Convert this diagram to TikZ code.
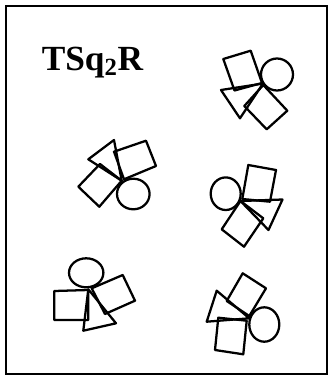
\documentclass[tikz,border=0pt]{standalone}
\usepackage{fontspec}
\setmainfont{Liberation Serif}
\usepackage{tikz}
\usetikzlibrary{positioning}

\begin{document}
\begin{tikzpicture}[
  x=0.75pt, y=-0.75pt,
  frame/.style={draw, line width=1.5pt},
  piece/.style={draw, line width=1.7pt, line join=round},
  title/.style={anchor=base west, font=\bfseries\fontsize{26.5}{30}\selectfont, inner sep=0pt}
]
\useasboundingbox (0,0) rectangle (328,376);
\draw[frame] (6.5,6) rectangle (326.5,374);
\node[title] (label) at (41.5,70.5) {TSq\textsubscript{2}R};

% group 1, top right
\draw[piece] (223.3,59) -- (250.7,50.7) -- (262,83) -- (234.5,90.5) -- cycle;
\draw[piece] (277,74.5) ellipse (16 and 16);
\draw[piece] (221,90) -- (263,83.5) -- (240,118.3) -- cycle;
\draw[piece] (244.3,106) -- (263.3,85) -- (287.3,110.7) -- (266.7,129.3) -- cycle;

% group 2, middle left
\draw[piece] (88.3,159.3) -- (114,140) -- (121.7,180.7) -- cycle;
\draw[piece] (114,151.7) -- (146,140.7) -- (156,166) -- (124,179.3) -- cycle;
\draw[piece] (78.3,186.7) -- (100,164) -- (121.7,180.7) -- (99.3,206.7) -- cycle;
\draw[piece] (133.3,194) ellipse (16.3 and 15.3);

% group 3, middle right
\draw[piece] (225.7,193.7) ellipse (15 and 16.3);
\draw[piece] (248.3,165) -- (276,170) -- (270,201.7) -- (242.3,199) -- cycle;
\draw[piece] (240.5,201) -- (282.5,199.5) -- (268.5,230) -- cycle;
\draw[piece] (221.7,229.3) -- (240.5,201) -- (263.3,218.3) -- (244,246.7) -- cycle;

% group 4, bottom left
\draw[piece] (86.2,272.8) ellipse (17.2 and 14.5);
\draw[piece] (54.3,291) -- (88.3,290) -- (88.3,320) -- (54.3,320) -- cycle;
\draw[piece] (91.7,288.3) -- (122.7,275) -- (135,300.7) -- (105,314) -- cycle;
\draw[piece] (88.3,289.3) -- (116,323.3) -- (83.3,330.7) -- cycle;

% group 5, bottom right
\draw[piece] (226.7,301) -- (242.7,273.3) -- (266,288.3) -- (249.3,316) -- cycle;
\draw[piece] (216.7,290.7) -- (249.3,318.3) -- (206.7,321.7) -- cycle;
\draw[piece] (218.3,317.7) -- (246.7,320.7) -- (243.3,354.3) -- (215,350) -- cycle;
\draw[piece] (264.3,324.5) ellipse (15 and 17.2);
\end{tikzpicture}
\end{document}
